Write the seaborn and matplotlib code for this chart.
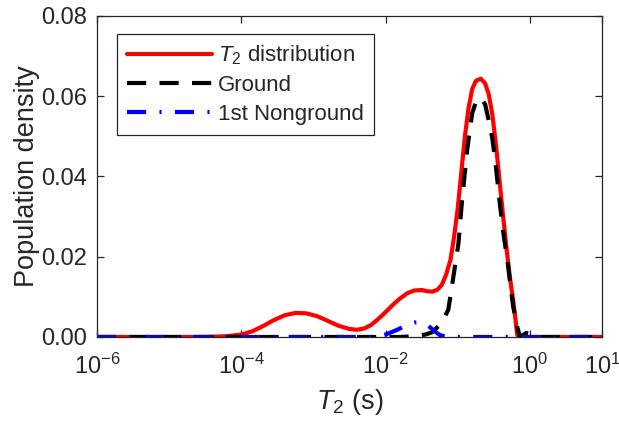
import numpy as np
import pandas as pd
import matplotlib
matplotlib.use("Agg")
import matplotlib.pyplot as plt
import seaborn as sns
from matplotlib.ticker import FixedLocator, FormatStrFormatter, NullLocator

# ---- data (log10 of T2 in seconds, population density) ----
red_log10_t2 = [-6.0, -4.5, -4.2, -4.0, -3.85, -3.7, -3.55, -3.4, -3.25, -3.1, -2.95, -2.8,
                -2.65, -2.5, -2.4, -2.3, -2.2, -2.1, -2.0, -1.9, -1.8, -1.7, -1.6, -1.5,
                -1.42, -1.35, -1.28, -1.22, -1.16, -1.10, -1.05, -1.00, -0.95, -0.90,
                -0.85, -0.80, -0.75, -0.68, -0.62, -0.57, -0.52, -0.47, -0.42, -0.37,
                -0.32, -0.27, -0.23, -0.20, -0.175, -0.15, 1.0]
red_density = [0, 0, 0.0002, 0.0006, 0.0014, 0.0027, 0.0042, 0.0054, 0.0060, 0.0059, 0.0052,
               0.0040, 0.0028, 0.0020, 0.0018, 0.0021, 0.0030, 0.0045, 0.0062, 0.0080, 0.0096,
               0.0109, 0.0116, 0.0117, 0.0114, 0.0113, 0.0118, 0.0130, 0.0156, 0.0192, 0.0250,
               0.0320, 0.0410, 0.0500, 0.0570, 0.0617, 0.0638, 0.0644, 0.0632, 0.0605, 0.0555,
               0.0480, 0.0390, 0.0300, 0.0215, 0.0140, 0.0090, 0.0045, 0.0005, 0, 0]

ground_log10_t2 = [-6.0, -1.8, -1.6, -1.45, -1.35, -1.25, -1.18, -1.13, -1.06, -0.99, -0.94,
                   -0.87, -0.80, -0.74, -0.68, -0.62, -0.57, -0.52, -0.48, -0.41, -0.36,
                   -0.31, -0.27, -0.23, -0.175, -0.14, -0.10, -0.05, 0.0, 0.05, 0.1, 1.0]
ground_density = [0, 0, 0.0002, 0.0006, 0.0012, 0.0030, 0.0050, 0.0068, 0.0150, 0.0233, 0.0340,
                  0.0465, 0.0557, 0.0590, 0.0596, 0.0580, 0.0540, 0.0495, 0.0440, 0.0323, 0.0250,
                  0.0190, 0.0130, 0.0075, 0.0025, 0.0003, 0.0004, 0.0010, 0.0008, 0.0002, 0, 0]

nonground_log10_t2 = [-6.0, -2.15, -2.0, -1.85, -1.7, -1.6, -1.52, -1.42, -1.33, -1.25, -1.15, 1.0]
nonground_density = [0, 0, 0.0006, 0.0017, 0.0030, 0.0036, 0.0037, 0.0030, 0.0016, 0.0005, 0, 0]

labels = [r"$T_{2}$ distribution", "Ground", "1st Nonground"]
x_ticks = [1e-6, 1e-4, 1e-2, 1e0, 1e1]
x_tick_labels = [r"$10^{-6}$", r"$10^{-4}$", r"$10^{-2}$", r"$10^{0}$", r"$10^{1}$"]
y_ticks = [0.0, 0.02, 0.04, 0.06, 0.08]

# ---- style ----
sns.set_style("ticks")
plt.rcParams["font.family"] = ["Liberation Sans", "DejaVu Sans"]
plt.rcParams["mathtext.fontset"] = "custom"
plt.rcParams["mathtext.rm"] = "Liberation Sans"
plt.rcParams["mathtext.it"] = "Liberation Sans:italic"
plt.rcParams["mathtext.bf"] = "Liberation Sans:bold"

axc = "#262626"
fig = plt.figure(figsize=(6.19, 4.30), dpi=100)
ax = fig.add_axes([0.1567, 0.2163, 0.8158, 0.7465])

df_red = pd.DataFrame({"T2": 10 ** np.array(red_log10_t2), "d": red_density})
df_g = pd.DataFrame({"T2": 10 ** np.array(ground_log10_t2), "d": ground_density})
df_n = pd.DataFrame({"T2": 10 ** np.array(nonground_log10_t2), "d": nonground_density})

lw = 3.0
sns.lineplot(data=df_red, x="T2", y="d", ax=ax, color="#ff0000", lw=lw, label=labels[0])
sns.lineplot(data=df_g, x="T2", y="d", ax=ax, color="black", lw=lw, label=labels[1])
sns.lineplot(data=df_n, x="T2", y="d", ax=ax, color="#0000ff", lw=lw, label=labels[2])
lines = ax.get_lines()
lines[1].set_dashes((4.6, 3.2))
lines[2].set_dashes((4.6, 3.2, 0.5, 3.2))

ax.set_xscale("log")
ax.set_xlim(1e-6, 1e1)
ax.set_ylim(0, 0.08)
ax.xaxis.set_major_locator(FixedLocator(x_ticks))
ax.set_xticklabels(x_tick_labels)
ax.xaxis.set_minor_locator(NullLocator())
ax.yaxis.set_major_locator(FixedLocator(y_ticks))
ax.yaxis.set_major_formatter(FormatStrFormatter("%.2f"))

for s in ax.spines.values():
    s.set_visible(True)
    s.set_color(axc)
    s.set_linewidth(0.9)
ax.tick_params(direction="in", length=5, width=0.9, colors=axc, labelsize=17,
               top=True, right=True, pad=7)
ax.tick_params(axis="x", pad=12)
ax.set_xlabel(r"$T_{2}$ (s)", fontsize=19.5, color=axc, labelpad=6)
ax.set_ylabel("Population density", fontsize=19.5, color=axc, labelpad=1)

leg = ax.legend(loc="upper left", bbox_to_anchor=(0.04, 0.945), fontsize=16,
                frameon=True, fancybox=False, framealpha=1, edgecolor=axc,
                handlelength=3.8, handletextpad=0.3, labelspacing=0.35,
                borderpad=0.45, borderaxespad=0)
leg.get_frame().set_linewidth(0.9)

fig.savefig("out.png", dpi=100)
